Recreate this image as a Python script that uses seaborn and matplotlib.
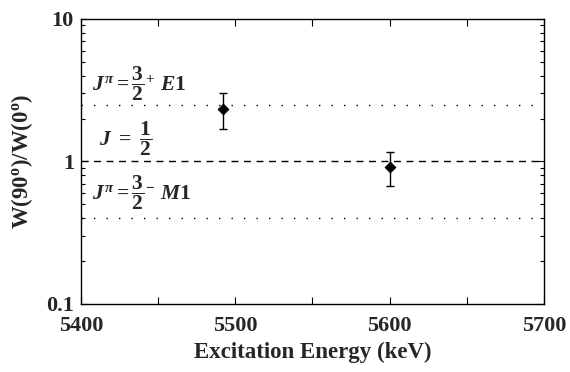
import pandas as pd
import matplotlib
matplotlib.use("Agg")
import matplotlib.pyplot as plt
import matplotlib.ticker as mticker
import seaborn as sns
import numpy as np

# -----------------------------------------------------------------------------
# Style
# -----------------------------------------------------------------------------
sns.set_theme(style="ticks")
sns.set_style({"xtick.direction": "in", "ytick.direction": "in"})
plt.rcParams["font.family"] = ["Liberation Serif", "DejaVu Serif"]
plt.rcParams["font.weight"] = "bold"
plt.rcParams["mathtext.fontset"] = "custom"
plt.rcParams["mathtext.rm"] = "Liberation Serif:bold"
plt.rcParams["mathtext.bf"] = "Liberation Serif:bold"
plt.rcParams["mathtext.it"] = "Liberation Serif:bold:italic"

# -----------------------------------------------------------------------------
# Data
# -----------------------------------------------------------------------------
energy = [5492, 5600]
ratio = [2.34, 0.92]
err_hi = [3.01, 1.17]
err_lo = [1.69, 0.67]

ref_levels = [2.5, 1.0, 0.4]
ref_styles = [":", "--", ":"]
ref_labels = [r"$J^{\pi} = \dfrac{3}{2}^{+}\ E1$",
              r"$J\ =\ \dfrac{1}{2}$",
              r"$J^{\pi} = \dfrac{3}{2}^{-}\ M1$"]
label_y = [3.5, 1.45, 0.6]
label_x = [5407, 5412, 5407]

df = pd.DataFrame({"Energy": energy, "Ratio": ratio})

# -----------------------------------------------------------------------------
# Plot
# -----------------------------------------------------------------------------
fig = plt.figure(figsize=(5.7, 3.72), dpi=100)
ax = fig.add_axes([0.142, 0.183, 0.812, 0.766])

for lev, ls in zip(ref_levels, ref_styles):
    ax.axhline(lev, color="black", ls=ls, lw=1,
               dashes=(1, 8) if ls == ":" else (5, 4))

yerr = np.array([np.array(ratio) - np.array(err_lo),
                 np.array(err_hi) - np.array(ratio)])
ax.errorbar(energy, ratio, yerr=yerr, fmt="none", ecolor="black",
            elinewidth=1, capsize=2.8, capthick=1)
sns.scatterplot(x="Energy", y="Ratio", data=df, marker="D", s=32,
                color="black", edgecolor="black", ax=ax, zorder=5)

for lx, ly, lab in zip(label_x, label_y, ref_labels):
    ax.text(lx, ly, lab, fontsize=15.5, va="center", ha="left")

ax.set_yscale("log")
ax.set_xlim(5400, 5700)
ax.set_ylim(0.1, 10)
ax.xaxis.set_major_locator(mticker.MultipleLocator(100))
ax.xaxis.set_minor_locator(mticker.MultipleLocator(50))
ax.yaxis.set_major_locator(mticker.FixedLocator([0.1, 1, 10]))
ax.yaxis.set_major_formatter(mticker.FixedFormatter(["0.1", "1", "10"]))
ax.yaxis.set_minor_locator(mticker.LogLocator(base=10, subs=np.arange(2, 10)))
ax.yaxis.set_minor_formatter(mticker.NullFormatter())
ax.tick_params(which="both", direction="in", top=True, right=True,
               labelsize=16, width=0.8, color="black")
ax.tick_params(which="major", length=5)
ax.tick_params(which="minor", length=3)
ax.tick_params(axis="x", which="minor", length=5)
ax.tick_params(axis="x", which="major", pad=9)
ax.tick_params(axis="y", which="major", pad=5)
for lab in ax.get_xticklabels() + ax.get_yticklabels():
    lab.set_fontweight("bold")
for sp in ax.spines.values():
    sp.set_linewidth(1)
    sp.set_color("black")

ax.set_xlabel("Excitation Energy (keV)", fontsize=16.5, fontweight="bold",
              labelpad=4)
ax.set_ylabel(r"W(90$^{\rm o}$)/W(0$^{\rm o}$)", fontsize=16.5,
              fontweight="bold", labelpad=8)

fig.savefig("out.png", dpi=100)
